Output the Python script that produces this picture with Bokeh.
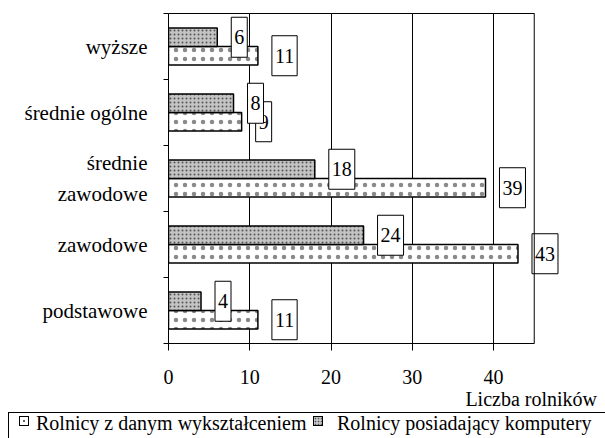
from bokeh.plotting import figure
from bokeh.layouts import column
from bokeh.models import (ColumnDataSource, Range1d, FixedTicker, Div,
                          LinearAxis, Span, CustomJSTickFormatter)
from bokeh.core.properties import value
from bokeh.transform import dodge
from bokeh.embed import file_html
from bokeh.resources import INLINE

# ---- data (bottom to top) ----
categories = ["podstawowe", "zawodowe", "średnie\nzawodowe", "średnie ogólne", "wyższe"]
with_education = [11, 43, 39, 9, 11]
with_computer = [4, 24, 18, 8, 6]
x_ticks = [0, 10, 20, 30, 40]
x_max = 45
x_label = "Liczba rolników"
series_names = ["Rolnicy z danym wykształceniem", "Rolnicy posiadający komputery"]

FONT = "Liberation Serif"
FS = "20px"

pos = [i + 0.5 for i in range(len(categories))]
src = ColumnDataSource(dict(
    pos=pos,
    edu=with_education,
    comp=with_computer,
    edu_txt=[str(v) for v in with_education],
    comp_txt=[str(v) for v in with_computer],
))

# y tick labels: one tick per text line, multi-line categories are split
LINE_SP = 0.47
label_ticks, label_texts = [], []
for i, c in enumerate(categories):
    lines = c.split("\n")
    n = len(lines)
    for j, line in enumerate(lines):
        label_ticks.append(pos[i] + ((n - 1) / 2 - j) * LINE_SP)
        label_texts.append(line)

# frame: 0..45 spans 366 px; range is extended so the value boxes are not clipped
X_VIEW = 48.6
chart = figure(width=605, height=390, output_backend="svg", toolbar_location=None,
               x_range=Range1d(0, X_VIEW), y_range=Range1d(0, len(categories)),
               min_border_left=168, min_border_right=42, min_border_top=13,
               min_border_bottom=47)
chart.background_fill_color = "white"
chart.border_fill_color = "white"
chart.outline_line_color = None

BAR_H = 0.28
r_edu = chart.hbar(y=dodge("pos", -BAR_H / 2), left=0, right="edu", height=BAR_H,
                   source=src, fill_color="white", line_color="black", line_width=1.5,
                   hatch_pattern="dot", hatch_scale=9, hatch_color="#8a8a8a",
                   hatch_weight=1)
r_comp = chart.hbar(y=dodge("pos", BAR_H / 2), left=0, right="comp", height=BAR_H,
                    source=src, fill_color="#c4c4c4", line_color="black", line_width=1.5,
                    hatch_pattern="dot", hatch_scale=4, hatch_color="#555555",
                    hatch_weight=1)

# x axis (bottom)
xa = chart.xaxis[0]
xa.bounds = (0, x_max)
xa.ticker = FixedTicker(ticks=x_ticks)
xa.major_tick_out = 7
xa.major_tick_in = 0
xa.minor_tick_out = 0
xa.minor_tick_in = 0
xa.major_label_standoff = 19
xa.major_label_text_font = FONT
xa.major_label_text_font_size = FS
xa.major_label_text_color = "black"
xa.axis_line_color = "black"
xa.major_tick_line_color = "black"

# top border of the plot area
top = LinearAxis(ticker=FixedTicker(ticks=[]), bounds=(0, x_max),
                 major_tick_out=0, major_tick_in=0, minor_tick_out=0, minor_tick_in=0,
                 major_label_standoff=0, major_label_text_font_size="0px",
                 axis_line_color="black")
chart.add_layout(top, "above")
# right border of the plot area
chart.add_layout(Span(location=x_max, dimension="height", line_color="black", line_width=1))

# y axis: labels at centres, ticks at category boundaries
ya = chart.yaxis[0]
ya.ticker = FixedTicker(ticks=label_ticks, minor_ticks=list(range(len(categories) + 1)))
ya.formatter = CustomJSTickFormatter(
    args=dict(label_pos=label_ticks, label_txt=label_texts),
    code=("const k = label_pos.findIndex(t => Math.abs(t - tick) < 1e-9);"
          " return k < 0 ? '' : label_txt[k];"))
ya.major_tick_out = 0
ya.major_tick_in = 0
ya.minor_tick_out = 5
ya.minor_tick_in = 0
ya.minor_tick_line_color = "black"
ya.major_label_standoff = 16
ya.major_label_text_font = FONT
ya.major_label_text_font_size = "21px"
ya.major_label_text_color = "black"
ya.axis_line_color = "black"

chart.xgrid.grid_line_color = "black"
chart.xgrid.grid_line_width = 1
chart.ygrid.grid_line_color = None

# value labels in boxes (edu first so the computer boxes lie on top)
PAD = dict(left=3, right=3, top=13, bottom=13)
common = dict(source=src, x_offset=14, text_align="left", text_baseline="middle",
              text_font=value(FONT), text_font_size=value(FS), text_color="black",
              background_fill_color="white", border_line_color="black",
              border_line_width=1, padding=PAD)
chart.text(x="edu", y=dodge("pos", -BAR_H / 2), text="edu_txt", **common)
chart.text(x="comp", y=dodge("pos", BAR_H / 2), text="comp_txt", **common)

# ---- axis title + legend strip below the chart ----
sym_edu = ("display:block;position:absolute;top:3px;width:10px;height:10px;"
           "border:1px solid #000;background:radial-gradient(circle,#666 0,#666 1px,#fff 1.6px);")
sym_comp = ("display:block;position:absolute;top:3px;width:10px;height:10px;"
            "border:1px solid #000;background-color:#c4c4c4;"
            "background-image:radial-gradient(circle,#555 0.7px,transparent 1.1px);"
            "background-size:3px 3px;")
txt = (f"position:absolute;line-height:16px;white-space:nowrap;"
       f"font-family:{FONT},serif;font-size:{FS};color:#000;")
html = (
    f'<div style="position:relative;width:605px;height:48px;font-family:{FONT},serif;">'
    f'<span style="{txt}right:8px;top:1px;">{x_label}</span>'
    f'<div style="position:absolute;left:8px;top:22px;width:597px;height:26px;'
    f'box-sizing:border-box;border-top:1px solid #000;border-left:1px solid #000;">'
    f'<span style="{sym_edu}left:10px;"></span>'
    f'<span style="{txt}left:27px;top:2px;">{series_names[0]}</span>'
    f'<span style="{sym_comp}left:304px;"></span>'
    f'<span style="{txt}left:328px;top:2px;">{series_names[1]}</span>'
    f'</div></div>'
)
legend_div = Div(text=html, width=605, height=48, margin=(0, 0, 0, 0))

p = column(chart, legend_div, spacing=0)

open("out.html", "w").write(file_html(p, INLINE))
